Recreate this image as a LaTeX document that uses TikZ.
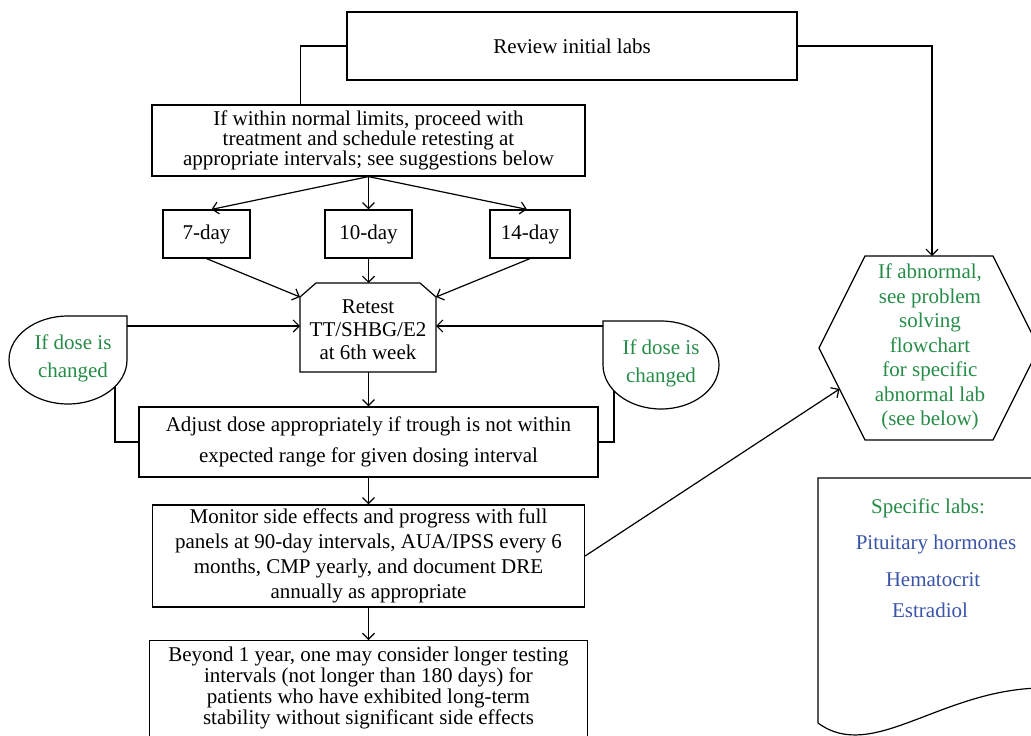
\documentclass[tikz,border=0pt]{standalone}
\usepackage{fontspec}
\setmainfont{Liberation Serif}
\usetikzlibrary{arrows.meta,calc}
\definecolor{tgreen}{RGB}{38,140,72}
\definecolor{tblue}{RGB}{58,84,168}
\newcommand{\fs}[1]{\fontsize{21}{#1}\selectfont}
\begin{document}
\begin{tikzpicture}[x=1pt,y=-1pt,
  every node/.style={inner sep=0pt, font=\fs{24}},
  box/.style={draw, line width=1.2pt, align=center},
  arr/.style={draw, line width=1.2pt, -{Straight Barb[length=6pt,width=12pt]}},
  ln/.style={draw, line width=1.2pt},
  shp/.style={draw, line width=1.2pt},
  gtxt/.style={text=tgreen, align=center},
  btxt/.style={text=tblue},
]
\useasboundingbox (0,0) rectangle (1031,736);

% main boxes
\node[box, minimum width=450pt, minimum height=68pt] (review) at (572,46) {Review initial labs};
\node[box, minimum width=433pt, minimum height=71pt, font=\fs{20}] (wnl) at (368.5,140.5)
  {If within normal limits, proceed with\\treatment and schedule retesting at\\appropriate intervals; see suggestions below};
\node[box, minimum width=87pt, minimum height=48pt] (d7) at (206.5,234) {7-day};
\node[box, minimum width=87pt, minimum height=48pt] (d10) at (368.5,234) {10-day};
\node[box, minimum width=80pt, minimum height=48pt] (d14) at (530,234) {14-day};

% retest octagon
\coordinate (rtNW) at (300,297);
\coordinate (rtNE) at (436,297);
\coordinate (rtN) at (368.5,283);
\coordinate (rtS) at (368.5,372);
\coordinate (rtW) at (300,326);
\coordinate (rtE) at (436,326);
\draw[shp] (316,283) -- (420,283) -- (rtNE) -- (436,372) -- (300,372) -- (rtNW) -- cycle;
\node[align=center, font=\fs{23}] (retest) at (368,330) {Retest\\TT/SHBG/E2\\at 6th week};

\node[box, minimum width=459pt, minimum height=70pt, font=\fs{31}] (adjust) at (368.5,442)
  {Adjust dose appropriately if trough is not within\\expected range for given dosing interval};
\node[box, minimum width=432pt, minimum height=102pt, font=\fs{25}] (monitor) at (368.5,556)
  {Monitor side effects and progress with full\\panels at 90-day intervals, AUA/IPSS every 6\\months, CMP yearly, and document DRE\\annually as appropriate};
\node[box, minimum width=438pt, minimum height=120pt, anchor=north] (beyond) at (368.5,640) {};
\node[align=center, font=\fs{21}] (beyondtxt) at (368.5,688)
  {Beyond 1 year, one may consider longer testing\\intervals (not longer than 180 days) for\\patients who have exhibited long-term\\stability without significant side effects};

% left dose-change shape
\draw[shp] (127,316) -- (127,360) .. controls (127,384.3) and (100.6,404) .. (68,404)
  .. controls (35.4,404) and (9,384.3) .. (9,360) .. controls (9,335.7) and (35.4,316) .. (68,316) -- cycle;
\node[gtxt, font=\fs{28}] (ldose) at (73,358) {If dose is\\changed};
\coordinate (ldoseE) at (127,326);
\coordinate (ldoseB) at (115,387);

% right dose-change shape
\draw[shp] (603,321) -- (661,321) .. controls (693,321) and (719,340.7) .. (719,365)
  .. controls (719,389.3) and (693,409) .. (661,409) .. controls (629,409) and (603,389.3) .. (603,365) -- cycle;
\node[gtxt, font=\fs{28}] (rdose) at (661,363) {If dose is\\changed};
\coordinate (rdoseW) at (603,326);
\coordinate (rdoseB) at (614,391);

% hexagon
\coordinate (hexN) at (932,256);
\coordinate (hexSW) at (839.5,389);
\draw[shp] (865,256) -- (993,256) -- (1039,348) -- (993,440) -- (865,440) -- (819,348) -- cycle;
\node[gtxt, font=\fs{24.5}] (hex) at (930,347)
  {If abnormal,\\see problem\\solving\\flowchart\\for specific\\abnormal lab\\(see below)};

% document shape
\draw[shp] (1040,688) -- (1040,478) -- (818,478) -- (818,723) .. controls (872,763) and (940,690) .. (1040,688);
\node[text=tgreen, anchor=base] (lab0) at (928,513) {Specific labs:};
\node[btxt, anchor=base] (lab1) at (936,549) {Pituitary hormones};
\node[btxt, anchor=base] (lab2) at (933,586) {Hematocrit};
\node[btxt, anchor=base] (lab3) at (930,617) {Estradiol};

% connectors
\draw[ln] (review.west) -| ([xshift=149pt]wnl.north west);
\draw[arr] (review.east) -| (hexN);
\draw[arr] (wnl.south) -- ([xshift=5pt]d7.north);
\draw[arr] (wnl.south) -- (d10.north);
\draw[arr] (wnl.south) -- ([xshift=-3pt]d14.north);
\draw[arr] (d7.south) -- (rtNW);
\draw[arr] (d10.south) -- (rtN);
\draw[arr] (d14.south) -- (rtNE);
\draw[arr] (ldoseE) -- (rtW);
\draw[arr] (rdoseW) -- (rtE);
\draw[ln] (ldoseB) |- (adjust.west);
\draw[ln] (rdoseB) |- (adjust.east);
\draw[arr] (rtS) -- (adjust.north);
\draw[arr] (adjust.south) -- (monitor.north);
\draw[arr] (monitor.east) -- (hexSW);
\draw[arr] (monitor.south) -- (beyond.north);
\end{tikzpicture}
\end{document}
